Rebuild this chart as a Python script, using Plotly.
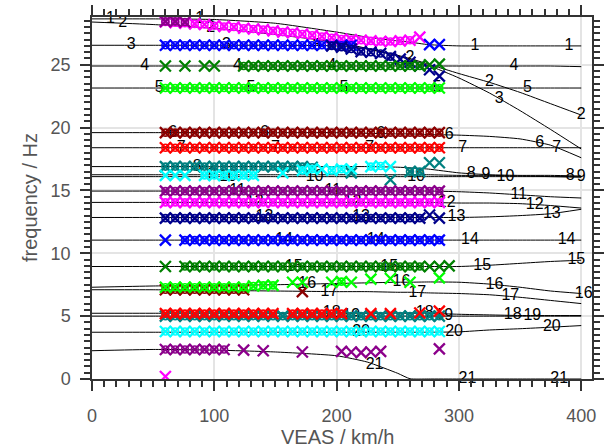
import numpy as np
import plotly.graph_objects as go

N = None

# ---------------- computed mode curves (frequency vs speed) ----------------
V_CURVE = [0, 50, 100, 150, 200, 225, 250, 260, 275, 300, 325, 350, 375, 400]

MODE_1 = [28.65, 28.65, 28.6, 28.3, 27.6, 27.2, 26.9, 26.8, 26.6, 26.5, 26.5, 26.5, 26.5, 26.5]
MODE_2 = [28.4, 28.2, 27.9, 27.4, 26.8, 26.3, 25.75, 25.5, 25.05, 24.3, 23.6, 22.8, 21.9, 21.0]
MODE_3 = [26.55, 26.55, 26.55, 26.55, 26.5, 26.25, 25.7, 25.4, 24.95, 23.95, 22.75, 21.35, 19.85, 18.3]
MODE_4 = [24.9, 24.9, 24.9, 24.9, 24.9, 24.9, 24.9, 24.9, 24.9, 24.9, 24.9, 24.9, 24.9, 24.85]
MODE_5 = [23.15, 23.15, 23.15, 23.15, 23.15, 23.15, 23.15, 23.15, 23.15, 23.15, 23.15, 23.15, 23.15, 23.15]
MODE_6 = [19.6, 19.6, 19.6, 19.6, 19.6, 19.55, 19.5, 19.5, 19.45, 19.4, 19.3, 19.1, 18.6, 17.6]
MODE_7 = [18.4, 18.4, 18.4, 18.4, 18.4, 18.4, 18.4, 18.4, 18.4, 18.4, 18.4, 18.4, 18.4, 18.4]
MODE_8 = [16.9, 16.9, 16.9, 16.9, 16.9, 16.9, 16.85, 16.8, 16.7, 16.4, 16.25, 16.2, 16.2, 16.15]
MODE_9 = [16.25, 16.25, 16.25, 16.25, 16.25, 16.25, 16.25, 16.25, 16.25, 16.2, 16.2, 16.15, 16.1, 16.05]
MODE_10 = [16.1, 16.1, 16.1, 16.1, 16.1, 16.1, 16.1, 16.1, 16.1, 16.1, 16.1, 16.1, 16.1, 16.1]
MODE_11 = [14.95, 14.95, 14.95, 14.95, 14.95, 14.95, 14.95, 14.95, 14.95, 14.9, 14.8, 14.65, 14.5, 14.4]
MODE_12 = [14.05, 14.05, 14.05, 14.05, 14.05, 14.05, 14.05, 14.05, 14.05, 14.0, 14.0, 13.95, 13.8, 13.6]
MODE_13 = [12.85, 12.85, 12.85, 12.85, 12.85, 12.85, 12.85, 12.85, 12.85, 12.85, 12.9, 13.0, 13.15, 13.5]
MODE_14 = [11.05, 11.05, 11.05, 11.05, 11.05, 11.05, 11.05, 11.05, 11.05, 11.05, 11.05, 11.05, 11.05, 11.05]
MODE_15 = [8.95, 8.95, 8.95, 8.95, 8.95, 8.95, 8.95, 8.95, 8.95, 8.95, 9.05, 9.2, 9.35, 9.45]
MODE_16 = [7.3, 7.4, 7.45, 7.5, 7.6, 7.65, 7.7, 7.7, 7.72, 7.7, 7.55, 7.3, 7.0, 6.8]
MODE_17 = [7.1, 7.1, 7.05, 7.0, 6.95, 6.95, 6.9, 6.9, 6.85, 6.8, 6.7, 6.5, 6.25, 6.0]
MODE_18 = [5.23, 5.23, 5.23, 5.23, 5.23, 5.23, 5.23, 5.23, 5.23, 5.15, 5.1, 5.05, 5.05, 5.05]
MODE_19 = [5.0, 5.0, 5.0, 5.0, 5.0, 5.0, 5.0, 5.0, 5.0, 5.0, 5.0, 5.0, 5.0, 5.0]
MODE_20 = [3.72, 3.72, 3.72, 3.72, 3.72, 3.72, 3.72, 3.72, 3.72, 3.75, 3.9, 4.0, 4.12, 4.25]
MODE_21 = [2.25, 2.35, 2.3, 2.15, 1.85, 1.35, 0.45, 0.02, 0.0, 0.0, 0.0, 0.0, 0.0, 0.0]

MODES = [MODE_1, MODE_2, MODE_3, MODE_4, MODE_5, MODE_6, MODE_7, MODE_8, MODE_9, MODE_10,
         MODE_11, MODE_12, MODE_13, MODE_14, MODE_15, MODE_16, MODE_17, MODE_18, MODE_19,
         MODE_20, MODE_21]

# speeds at which each mode number is written along its curve
LABEL_SPEEDS = [
    [15, 88, 313, 390],          # 1
    [25, 97, 260, 325, 400],     # 2
    [32, 110, 184, 333],         # 3
    [43, 119, 196, 345],         # 4
    [55, 130, 206, 282, 356],    # 5
    [66, 141, 236, 292, 366],    # 6
    [73, 150, 227, 303, 380],    # 7
    [86, 310, 391],              # 8
    [98, 322, 400],              # 9
    [111, 182, 265, 338],        # 10
    [119, 197, 349],             # 11
    [133, 213, 290, 362],        # 12
    [141, 220, 298, 376],        # 13
    [157, 232, 309, 388],        # 14
    [165, 243, 319, 396],        # 15
    [176, 253, 329, 402],        # 16
    [194, 266, 342],             # 17
    [196, 272, 344],             # 18
    [212, 288, 360],             # 19
    [220, 296, 376],             # 20
    [231, 307, 382],             # 21
]

# ---------------- measured points (speed grid, km/h) ----------------
SPEEDS = [60, 68, 76, 84, 92, 100, 108, 116, 124, 132, 140, 148, 156, 164, 172,
          180, 188, 196, 204, 212, 220, 228, 236, 244, 252, 260, 268, 276, 284, 292]

# 'o' = cross and circle, 'x' = cross only, '.' = no point
ROW_A = [28.45, 28.45, 28.4, N, N, N, N, N, N, N, N, N, N, N, N, N, N, N, N, N, N, N, N, N, N, N, N, N, N, N]
MASK_A = "ooo..........................."
ROW_B = [28.4, 28.35, 28.3, 28.25, 28.2, 28.1, 28.05, 28.0, 27.9, 27.85, 27.8, 27.7, 27.6, 27.55, 27.45,
         27.35, 27.25, 27.15, 27.05, 27.0, 26.95, 26.9, 26.85, 26.85, 26.9, 26.95, 27.2, N, N, N]
MASK_B = "oooooooooooooooooooooooooox..."
ROW_C = [26.55, 26.55, 26.55, 26.55, 26.55, 26.55, 26.55, 26.55, 26.55, 26.55, 26.55, 26.55, 26.55, 26.55, 26.55,
         26.55, 26.55, 26.55, 26.55, 26.55, N, N, N, N, N, N, N, 26.6, 26.6, N]
MASK_C = "oooooooooooooooooooo.......xx."
ROW_D = [N, N, N, N, N, N, N, N, N, N, N, N, N, N, N, N, N, 26.5, 26.4, 26.25, 26.05, 26.0, 25.9, 25.65,
         25.45, 25.2, 24.9, 24.6, 24.1, N]
MASK_D = ".................oooooooxxxxx."
ROW_E = [24.9, N, 24.9, N, 24.9, 24.9, N, N, 24.9, 24.9, 24.9, 24.9, 24.9, 24.9, 24.9, 24.9, 24.9, 24.9,
         24.9, 24.9, 24.9, 24.9, 24.9, 24.9, 24.9, 24.9, 24.9, 25.0, 25.05, N]
MASK_E = "x.x.xx..oooooooooooooooooooxx."
ROW_F = [23.15, 23.15, 23.15, 23.15, 23.15, 23.15, 23.15, 23.15, 23.15, 23.15, 23.15, 23.15, 23.15, 23.15, 23.15,
         23.15, 23.15, 23.15, 23.15, 23.15, 23.15, 23.15, 23.15, 23.15, 23.15, 23.15, 23.15, 23.15, 23.15, N]
MASK_F = "ooooooooooooooooooooooooooooo."
ROW_G = [19.6, 19.6, 19.6, 19.6, 19.6, 19.6, 19.6, 19.6, 19.6, 19.6, 19.6, 19.6, 19.6, 19.6, 19.6,
         19.6, 19.6, 19.6, 19.6, 19.6, 19.6, 19.6, 19.6, 19.6, 19.6, 19.6, 19.6, 19.6, 19.6, N]
MASK_G = "ooooooooooooooooooooooooooooo."
ROW_H = [18.4, 18.4, 18.4, 18.4, 18.4, 18.4, 18.4, 18.4, 18.4, 18.4, 18.4, 18.4, 18.4, 18.4, 18.4,
         18.4, 18.4, 18.4, 18.4, 18.4, 18.4, 18.4, 18.4, 18.4, 18.4, 18.4, 18.4, 18.4, 18.4, N]
MASK_H = "ooooooooooooooooooooooooooooo."
ROW_I = [16.9, 16.9, 16.9, 16.9, 16.9, 16.9, 16.9, 16.9, 16.9, 16.9, 16.9, 16.9, 16.9, 16.9, 16.9,
         16.85, N, N, N, 16.4, N, N, N, 15.85, N, 16.5, 16.5, 17.2, 17.2, N]
MASK_I = "oooooooooooooooo...x...x.ooxx."
ROW_J = [16.2, 16.2, 16.2, N, 16.2, 16.2, 16.2, 16.2, 16.2, 16.2, N, N, 16.4, N, 16.6,
         16.7, 16.7, 16.6, 16.7, 16.7, N, 16.9, 16.95, 16.9, N, N, N, N, N, N]
MASK_J = "xxx.oooooo..x.ooxoox.oox......"
ROW_K = [14.95, 14.95, 14.95, 14.95, 14.95, 14.95, 14.95, 14.95, 14.95, 14.95, 14.95, 14.95, 14.95, 14.95, 14.95,
         14.95, 14.95, 14.95, 14.95, 14.95, 14.95, 14.95, 14.95, 14.95, 14.95, 14.95, 14.95, 14.95, 14.95, N]
MASK_K = "ooooooooooooooooooooooooooooo."
ROW_L = [14.05, 14.05, 14.05, 14.05, 14.05, 14.05, 14.05, 14.05, 14.05, 14.05, 14.05, 14.05, 14.05, 14.05, 14.05,
         14.05, 14.05, 14.05, 14.05, 14.05, 14.05, 14.05, 14.05, 14.05, 14.05, 14.05, 14.05, 14.05, 14.05, N]
MASK_L = "ooooooooooooooooooooooooooooo."
ROW_M = [12.8, 12.8, 12.8, 12.8, 12.8, 12.8, 12.8, 12.8, 12.8, 12.8, 12.8, 12.8, 12.8, 12.8, 12.8,
         12.8, 12.8, 12.8, 12.8, 12.8, 12.8, 12.8, 12.8, 12.8, 12.8, 12.8, 12.8, 13.05, 12.8, N]
MASK_M = "oooooooooooooooooooooooooooxx."
ROW_N = [11.05, N, 11.05, 11.05, 11.05, 11.05, 11.05, 11.05, 11.05, 11.05, 11.05, 11.05, 11.05, 11.05, 11.05,
         11.05, 11.05, 11.05, 11.05, 11.05, 11.05, 11.05, 11.05, 11.05, 11.05, 11.05, 11.05, 11.05, 11.05, N]
MASK_N = "x.ooooooooooooooooooooooooooo."
ROW_O = [8.95, N, 8.95, 8.95, 8.95, 8.95, 8.95, 8.95, 8.95, 8.95, 8.95, 8.95, 8.95, 8.95, 8.95,
         8.95, 8.95, 8.95, 8.95, 8.95, 8.95, 8.95, 8.95, 8.95, 8.95, 8.95, 8.95, 8.95, 8.95, 9.0]
MASK_O = "x.oooooooooooooooooooooooooxxx"
ROW_P = [7.3, 7.3, 7.3, 7.3, 7.3, 7.3, 7.3, 7.3, 7.3, 7.4, 7.45, 7.45, N, 7.7, 7.7,
         N, N, 7.7, 7.75, 7.7, N, 7.95, N, 8.0, N, 7.7, N, N, 8.05, N]
MASK_P = "oooooooooooo.xx..xox.x.x.x..x."
ROW_Q = [7.1, 7.1, 7.1, 7.1, 7.1, 7.1, 7.1, 7.1, 7.1, N, N, N, N, N, 6.95,
         N, N, N, N, N, N, N, N, N, N, N, N, N, N, N]
MASK_Q = "ooooooooo.....x..............."
ROW_R = [5.2, 5.2, 5.2, 5.2, 5.2, 5.2, 5.2, 5.2, 5.2, 5.2, 5.2, 5.2, N, 5.2, 5.2,
         5.2, 5.2, 5.2, 5.2, N, N, 5.2, N, 5.2, N, N, 5.25, N, 5.4, N]
MASK_R = "oooooooooooo.oooooo..x.x..x.x."
ROW_S = [5.0, 5.0, 5.0, 5.0, 5.0, 5.0, 5.0, 5.0, 5.0, 5.0, 5.0, 5.0, 5.0, 5.0, 5.0,
         5.0, 5.0, 5.0, 5.0, 5.0, 5.0, 5.0, 5.0, 5.0, 5.0, 5.0, 5.0, 5.0, 5.0, N]
MASK_S = "ooooooooooooooooooooooooooooo."
ROW_T = [3.78, 3.78, 3.78, 3.78, 3.78, 3.78, 3.78, 3.78, 3.78, 3.78, 3.78, 3.78, 3.78, 3.78, 3.78,
         3.78, 3.78, 3.78, 3.78, 3.78, 3.78, 3.78, 3.78, 3.78, 3.78, 3.78, 3.78, 3.78, 3.78, N]
MASK_T = "ooooooooooooooooooooooooooooo."
ROW_U = [2.35, 2.35, 2.35, 2.35, 2.35, 2.35, 2.35, N, 2.3, N, 2.25, N, N, N, 2.15,
         N, N, N, 2.2, 2.15, 2.1, 2.15, 2.2, N, N, N, N, N, 2.4, N]
MASK_U = "ooooooo.x.x...x...xxxxx.....x."
ROW_V = [0.2, N, N, N, N, N, N, N, N, N, N, N, N, N, N, N, N, N, N, N, N, N, N, N, N, N, N, N, N, N]
MASK_V = "x............................."

ROWS = [  # drawing order
    (ROW_B, MASK_B, "#ff00ff"),
    (ROW_A, MASK_A, "#8b008b"),
    (ROW_C, MASK_C, "#0000ff"),
    (ROW_D, MASK_D, "#00008b"),
    (ROW_E, MASK_E, "#008000"),
    (ROW_F, MASK_F, "#00ff00"),
    (ROW_G, MASK_G, "#8b0000"),
    (ROW_H, MASK_H, "#ff0000"),
    (ROW_I, MASK_I, "#008080"),
    (ROW_J, MASK_J, "#00ffff"),
    (ROW_K, MASK_K, "#8b008b"),
    (ROW_L, MASK_L, "#ff00ff"),
    (ROW_M, MASK_M, "#00008b"),
    (ROW_N, MASK_N, "#0000ff"),
    (ROW_O, MASK_O, "#008000"),
    (ROW_Q, MASK_Q, "#8b0000"),
    (ROW_P, MASK_P, "#00ff00"),
    (ROW_S, MASK_S, "#008080"),
    (ROW_R, MASK_R, "#ff0000"),
    (ROW_T, MASK_T, "#00ffff"),
    (ROW_U, MASK_U, "#8b008b"),
    (ROW_V, MASK_V, "#ff00ff"),
]

FONT = "Liberation Sans, Arial, sans-serif"

fig = go.Figure()

# black computed curves
for f in MODES:
    fig.add_trace(go.Scatter(x=V_CURVE, y=f, mode="lines",
                             line=dict(color="black", width=1, shape="spline", smoothing=0.5),
                             hoverinfo="skip", showlegend=False))

# mode number labels along curves
lx, ly, lt = [], [], []
for m, speeds in enumerate(LABEL_SPEEDS):
    for v in speeds:
        lx.append(v)
        ly.append(float(np.interp(v, V_CURVE, MODES[m])))
        lt.append(str(m + 1))
fig.add_trace(go.Scatter(x=lx, y=ly, text=lt, mode="text", textposition="middle center",
                         textfont=dict(family=FONT, size=16, color="black"),
                         cliponaxis=False, hoverinfo="skip", showlegend=False))

# measured points
for row, mask, col in ROWS:
    xs = [SPEEDS[i] for i in range(len(SPEEDS)) if row[i] is not None]
    ys = [row[i] for i in range(len(SPEEDS)) if row[i] is not None]
    xo = [SPEEDS[i] for i in range(len(SPEEDS)) if row[i] is not None and mask[i] == "o"]
    yo = [row[i] for i in range(len(SPEEDS)) if row[i] is not None and mask[i] == "o"]
    fig.add_trace(go.Scatter(x=xs, y=ys, mode="markers",
                             marker=dict(symbol="x-thin-open", size=11, color=col,
                                         line=dict(width=2.3, color=col)),
                             hoverinfo="skip", showlegend=False))
    fig.add_trace(go.Scatter(x=xo, y=yo, mode="markers",
                             marker=dict(symbol="circle-open", size=7, color=col,
                                         line=dict(width=1.6, color=col)),
                             hoverinfo="skip", showlegend=False))

axis_common = dict(
    ticks="outside", ticklen=10, tickwidth=1.5, tickcolor="#333333",
    showline=True, linecolor="#333333", linewidth=1.5, mirror="allticks",
    showgrid=True, gridcolor="#e4e4e4", gridwidth=1.5, zeroline=False,
    tickfont=dict(family=FONT, size=18, color="#555555"),
    automargin=False,
)

fig.update_layout(
    width=610, height=448,
    margin=dict(l=92, r=18, t=17, b=69),
    paper_bgcolor="white", plot_bgcolor="white",
    showlegend=False,
    xaxis=dict(range=[0, 408.8], tickvals=[0, 100, 200, 300, 400],
               minor=dict(dtick=10, ticklen=6, tickcolor="#333333", tickwidth=1.5, showgrid=False),
               ticklabelstandoff=10,
               **axis_common),
    yaxis=dict(range=[0, 28.8], tickvals=[0, 5, 10, 15, 20, 25],
               minor=dict(dtick=0.5, ticklen=6, tickcolor="#333333", tickwidth=1.5, showgrid=False),
               ticklabelstandoff=6,
               **axis_common),
    annotations=[
        dict(text="VEAS / km/h", xref="paper", yref="paper", x=0.49, y=-58 / 362,
             xanchor="center", yanchor="middle", showarrow=False,
             font=dict(family=FONT, size=20, color="#555555")),
        dict(text="frequency / Hz", xref="paper", yref="paper", x=-62 / 500, y=0.5,
             xanchor="center", yanchor="middle", textangle=-90, showarrow=False,
             font=dict(family=FONT, size=20, color="#555555")),
    ],
)

fig.write_html("out.html")
